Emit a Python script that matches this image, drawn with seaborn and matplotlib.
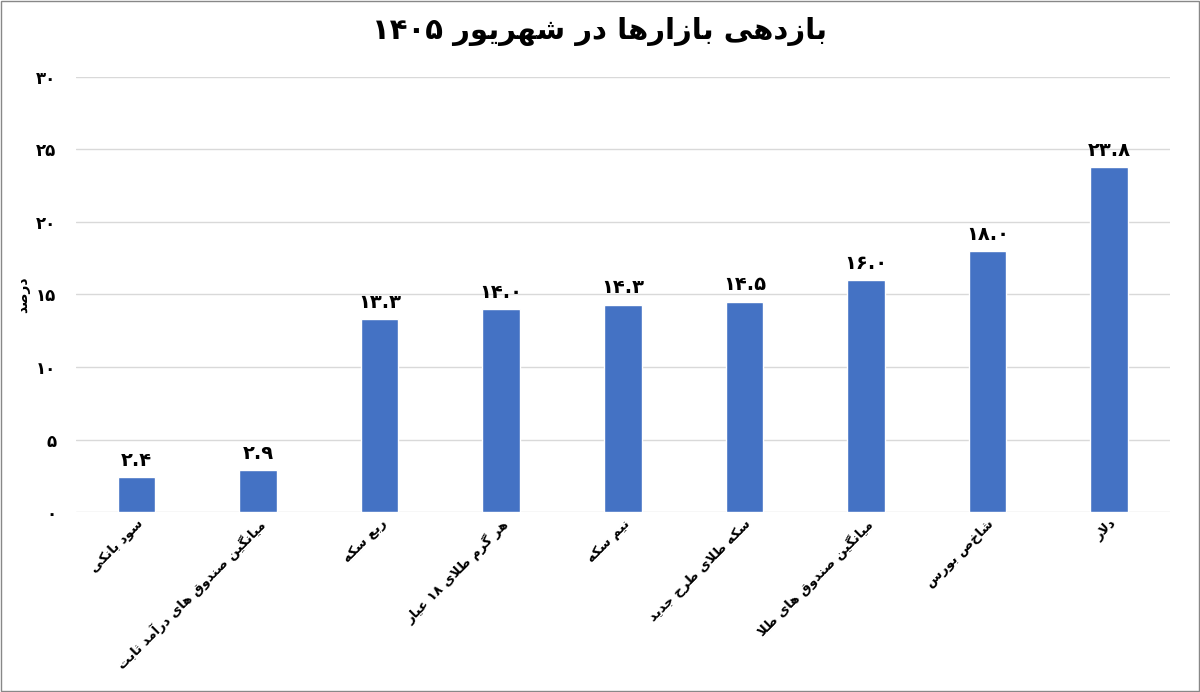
import matplotlib
matplotlib.use("Agg")
import matplotlib.pyplot as plt
import seaborn as sns
import pandas as pd
import re

categories = ["سود بانکی", "میانگین صندوق های درآمد ثابت", "ربع سکه", "هر گرم طلای ۱۸ عیار",
              "نیم سکه", "سکه طلای طرح جدید", "میانگین صندوق های طلا", "شاخص بورس", "دلار"]
values = [2.4, 2.9, 13.3, 14.0, 14.3, 14.5, 16.0, 18.0, 23.8]
title = "بازدهی بازارها در شهریور ۱۴۰۵"
ylabel = "درصد"
yticks = [0, 5, 10, 15, 20, 25, 30]

FORMS = {
 'ا':(0xFE8D,0xFE8E,None,None),'آ':(0xFE81,0xFE82,None,None),
 'ب':(0xFE8F,0xFE90,0xFE91,0xFE92),'ت':(0xFE95,0xFE96,0xFE97,0xFE98),
 'ث':(0xFE99,0xFE9A,0xFE9B,0xFE9C),'ج':(0xFE9D,0xFE9E,0xFE9F,0xFEA0),
 'ح':(0xFEA1,0xFEA2,0xFEA3,0xFEA4),'د':(0xFEA9,0xFEAA,None,None),
 'ر':(0xFEAD,0xFEAE,None,None),'ز':(0xFEAF,0xFEB0,None,None),
 'س':(0xFEB1,0xFEB2,0xFEB3,0xFEB4),'ش':(0xFEB5,0xFEB6,0xFEB7,0xFEB8),
 'ص':(0xFEB9,0xFEBA,0xFEBB,0xFEBC),'ط':(0xFEC1,0xFEC2,0xFEC3,0xFEC4),
 'ع':(0xFEC9,0xFECA,0xFECB,0xFECC),'ق':(0xFED5,0xFED6,0xFED7,0xFED8),
 'ل':(0xFEDD,0xFEDE,0xFEDF,0xFEE0),'م':(0xFEE1,0xFEE2,0xFEE3,0xFEE4),
 'ن':(0xFEE5,0xFEE6,0xFEE7,0xFEE8),'ه':(0xFEE9,0xFEEA,0xFEEB,0xFEEC),
 'و':(0xFEED,0xFEEE,None,None),'ی':(0xFBFC,0xFBFD,0xFBFE,0xFBFF),
 'ک':(0xFB8E,0xFB8F,0xFB90,0xFB91),'گ':(0xFB92,0xFB93,0xFB94,0xFB95),
}
def dual(c): return c in FORMS and FORMS[c][2] is not None

def shape(s):
    chars = list(s)
    out = []
    i = 0
    n = len(chars)
    while i < n:
        c = chars[i]
        prev = chars[i-1] if i > 0 else None
        jp = prev is not None and dual(prev)
        if c == 'ل' and i+1 < n and chars[i+1] == 'ا':
            out.append(chr(0xFEFC if jp else 0xFEFB)); i += 2; continue
        if c not in FORMS:
            out.append(c); i += 1; continue
        nxt = chars[i+1] if i+1 < n else None
        jn = dual(c) and nxt is not None and nxt in FORMS
        f = FORMS[c]
        if jp and jn: o = f[3]
        elif jp: o = f[1]
        elif jn: o = f[2]
        else: o = f[0]
        out.append(chr(o)); i += 1
    vis = ''.join(out)[::-1]
    return re.sub(r'[۰-۹0-9.]+', lambda m: m.group(0)[::-1], vis)

def fa(num):
    return str(num).translate(str.maketrans("0123456789", "۰۱۲۳۴۵۶۷۸۹"))

df = pd.DataFrame({"cat": [shape(c) for c in categories], "val": values})

sns.set_theme(style="white")
plt.rcParams['font.family'] = ['DejaVu Sans']
fig = plt.figure(figsize=(12, 6.92), dpi=100)
ax = fig.add_axes([0.063, 0.26, 0.912, 0.629])
sns.barplot(data=df, x="cat", y="val", color="#4472C4", width=0.31, ax=ax, zorder=3, saturation=1)
ax.set_ylim(0, 30)
ax.set_yticks(yticks)
ax.set_yticklabels([fa(t) for t in yticks], fontweight="bold", fontsize=12, color="black")
ax.yaxis.grid(True, color="#d9d9d9", lw=1, zorder=0)
for s in ax.spines.values(): s.set_visible(False)
ax.tick_params(axis='both', length=0)
ax.tick_params(axis='y', pad=14)
ax.set_xlabel("")
ax.set_ylabel(shape(ylabel), fontsize=10, fontweight="bold", color="black")
ax.set_xticks(range(len(categories)))
ax.set_xticklabels(df["cat"], rotation=45, ha="right", rotation_mode="anchor", fontsize=9.5,
                   fontweight="bold", color="black")
for i, v in enumerate(values):
    ax.text(i, v + 0.5, fa(f"{v:.1f}"), ha="center", va="bottom", fontsize=14, fontweight="bold", color="black")
fig.text(0.5, 0.955, shape(title), ha="center", va="center", fontsize=21, fontweight="bold", color="black")
fig.patches.append(plt.Rectangle((0.001, 0.001), 0.998, 0.998, transform=fig.transFigure,
                                 fill=False, edgecolor="#888888", lw=1))
fig.savefig("out.png", dpi=100)
